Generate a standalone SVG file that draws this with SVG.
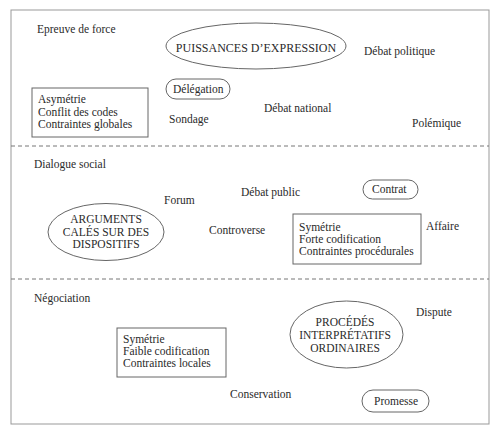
<svg xmlns="http://www.w3.org/2000/svg" width="500" height="432" viewBox="0 0 500 432">
<style>
text{font-family:'Liberation Serif','Times New Roman',Tinos,'DejaVu Serif',serif;font-size:11.5px;fill:#2a2a2a}
.c{text-anchor:middle}
.s{fill:none;stroke:#666;stroke-width:1}
.d{stroke:#777;stroke-width:1;stroke-dasharray:4 3}
</style>
<rect width="500" height="432" fill="#fff"/>
<rect x="11" y="10" width="478" height="414" fill="none" stroke="#999" stroke-width="1"/>
<line class="d" x1="11" y1="146" x2="489" y2="146"/>
<line class="d" x1="11" y1="279" x2="489" y2="279"/>
<g font-family="Liberation Serif, serif">
<g id="zone-epreuve">
<text x="37" y="33">Epreuve de force</text>
</g>
<g id="puissances">
<ellipse class="s" cx="256" cy="46" rx="90" ry="23"/>
<text class="c" x="256" y="52" style="font-size:12px">PUISSANCES D’EXPRESSION</text>
</g>
<g id="debat-politique"><text x="364" y="55">Débat politique</text></g>
<g id="delegation">
<rect class="s" x="166" y="79" width="64" height="20" rx="10"/>
<text x="173" y="93">Délégation</text>
</g>
<g id="box-asymetrie">
<rect class="s" x="32" y="88" width="116" height="49"/>
<text x="38" y="103">Asymétrie</text>
<text x="38" y="116">Conflit des codes</text>
<text x="38" y="128">Contraintes globales</text>
</g>
<g id="sondage"><text x="169" y="123">Sondage</text></g>
<g id="debat-national"><text x="264" y="112">Débat national</text></g>
<g id="polemique"><text x="412" y="127">Polémique</text></g>

<g id="zone-dialogue"><text x="34" y="168">Dialogue social</text></g>
<g id="forum"><text x="164" y="204">Forum</text></g>
<g id="debat-public"><text x="241" y="196">Débat public</text></g>
<g id="contrat">
<rect class="s" x="363" y="180" width="55" height="19" rx="9.5"/>
<text x="372" y="193">Contrat</text>
</g>
<g id="arguments">
<ellipse class="s" cx="106" cy="232" rx="58" ry="28.5"/>
<text class="c" x="106" y="223">ARGUMENTS</text>
<text class="c" x="106" y="236">CALÉS SUR DES</text>
<text class="c" x="106" y="248">DISPOSITIFS</text>
</g>
<g id="controverse"><text x="209" y="234">Controverse</text></g>
<g id="box-forte">
<rect class="s" x="293" y="214" width="128" height="50"/>
<text x="299" y="231">Symétrie</text>
<text x="299" y="243">Forte codification</text>
<text x="299" y="255">Contraintes procédurales</text>
</g>
<g id="affaire"><text x="426" y="230">Affaire</text></g>

<g id="zone-negociation"><text x="34" y="302">Négociation</text></g>
<g id="box-faible">
<rect class="s" x="117" y="328" width="109" height="49"/>
<text x="123" y="343">Symétrie</text>
<text x="123" y="355">Faible codification</text>
<text x="123" y="367">Contraintes locales</text>
</g>
<g id="procedes">
<ellipse class="s" cx="346.5" cy="334.5" rx="56.5" ry="33.5"/>
<text class="c" x="345" y="326">PROCÉDÉS</text>
<text class="c" x="345" y="339">INTERPRÉTATIFS</text>
<text class="c" x="345" y="352">ORDINAIRES</text>
</g>
<g id="dispute"><text x="416" y="316">Dispute</text></g>
<g id="conservation"><text x="230" y="398">Conservation</text></g>
<g id="promesse">
<rect class="s" x="362" y="390" width="67" height="22" rx="11"/>
<text x="374" y="405">Promesse</text>
</g>
</g>
</svg>
